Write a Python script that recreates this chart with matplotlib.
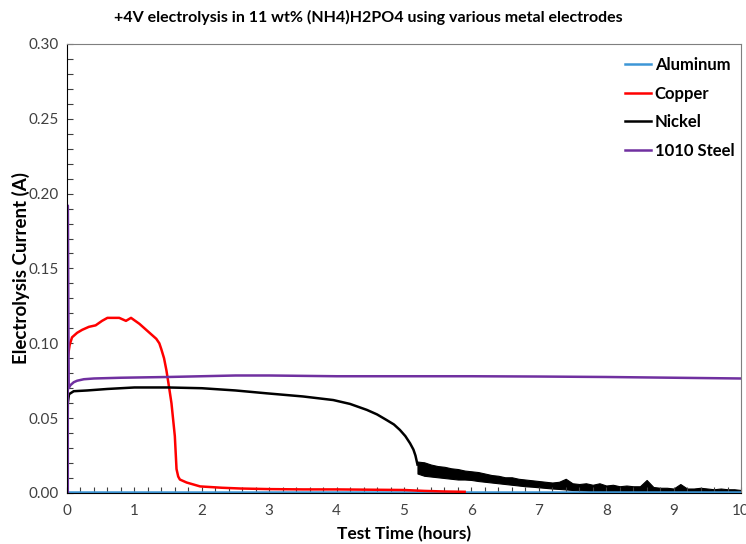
import matplotlib
matplotlib.use('Agg')
import matplotlib.pyplot as plt
from matplotlib.ticker import MultipleLocator

plt.rcParams['font.family'] = ['Lato', 'DejaVu Sans']

# --- data (hours, amps) ---
al_t = [0, 2, 4, 6, 8, 10]
al_i = [0.0005, 0.0005, 0.0005, 0.0005, 0.0005, 0.0005]

cu_t = [0.004, 0.004, 0.012, 0.04, 0.075, 0.15, 0.225, 0.325, 0.425, 0.52, 0.6, 0.7, 0.775,
        0.875, 0.95, 1.075, 1.15, 1.225, 1.325, 1.37, 1.4, 1.44, 1.475, 1.51, 1.55, 1.6,
        1.625, 1.65, 1.675, 1.775, 1.975, 2.3, 2.575, 3.0, 3.5, 4.0, 4.5, 5.0, 5.3, 5.6, 5.9]
cu_i = [0.0, 0.121, 0.091, 0.099, 0.104, 0.107, 0.109, 0.111, 0.112, 0.115, 0.117, 0.117,
        0.117, 0.115, 0.117, 0.113, 0.110, 0.107, 0.103, 0.100, 0.096, 0.090, 0.082, 0.072,
        0.060, 0.038, 0.016, 0.011, 0.009, 0.007, 0.0044, 0.0035, 0.0030, 0.0026, 0.0024,
        0.0024, 0.0022, 0.0020, 0.0014, 0.0010, 0.0008]

ni_t = [0.008, 0.012, 0.03, 0.1, 0.3, 0.6, 1.0, 1.5, 2.0, 2.5, 2.96, 3.5, 3.95, 4.2, 4.45,
        4.6, 4.74, 4.85, 4.94, 5.02, 5.09, 5.14, 5.17, 5.20]
ni_i = [0.0, 0.060, 0.066, 0.068, 0.0685, 0.0695, 0.0705, 0.0705, 0.0700, 0.0685, 0.0666,
        0.0645, 0.0621, 0.0595, 0.0555, 0.0525, 0.0488, 0.0458, 0.0421, 0.0380, 0.0332,
        0.0290, 0.0250, 0.0190]

# noisy nickel tail: upper / lower edge of the black band
ni_tail_t = [5.2, 5.3, 5.4, 5.5, 5.6, 5.7, 5.8, 5.9, 6.0, 6.1, 6.2, 6.3, 6.4, 6.5, 6.6,
             6.7, 6.8, 6.9, 7.0, 7.1, 7.2, 7.3, 7.4, 7.5, 7.6, 7.7, 7.8, 7.9, 8.0, 8.1,
             8.2, 8.3, 8.4, 8.5, 8.6, 8.7, 8.8, 8.9, 9.0, 9.1, 9.2, 9.3, 9.4, 9.5, 9.6,
             9.7, 9.8, 9.9, 10.0]
ni_tail_hi = [0.021, 0.0205, 0.019, 0.018, 0.0175, 0.0165, 0.016, 0.015, 0.0145, 0.014,
              0.013, 0.012, 0.0115, 0.0105, 0.0105, 0.0095, 0.009, 0.0085, 0.008, 0.0075,
              0.007, 0.0075, 0.0095, 0.0065, 0.006, 0.0065, 0.0055, 0.0065, 0.005, 0.0055,
              0.0045, 0.005, 0.0045, 0.0045, 0.0087, 0.004, 0.0035, 0.0035, 0.003, 0.006,
              0.003, 0.003, 0.0035, 0.003, 0.0025, 0.003, 0.0025, 0.0025, 0.002]
ni_tail_lo = [0.013, 0.0115, 0.011, 0.0105, 0.010, 0.0095, 0.009, 0.009, 0.0087, 0.008,
              0.0075, 0.007, 0.0065, 0.006, 0.0055, 0.005, 0.0045, 0.0042, 0.0038, 0.0034,
              0.003, 0.0027, 0.0024, 0.002, 0.0018, 0.0016, 0.0013, 0.0011, 0.0009, 0.0008,
              0.0008, 0.0007, 0.0007, 0.0007, 0.0007, 0.0006, 0.0006, 0.0006, 0.0006, 0.0006,
              0.0005, 0.0005, 0.0005, 0.0005, 0.0005, 0.0005, 0.0005, 0.0005, 0.0005]

st_t = [0.012, 0.012, 0.025, 0.05, 0.1, 0.15, 0.25, 0.4, 0.8, 1.5, 2.0, 2.5, 3.0, 4.0, 5.0,
        6.0, 7.0, 8.0, 9.0, 10.0]
st_i = [0.0, 0.192, 0.070, 0.072, 0.074, 0.075, 0.076, 0.0765, 0.077, 0.0775, 0.078,
        0.0785, 0.0785, 0.078, 0.078, 0.078, 0.0778, 0.0775, 0.077, 0.0765]

fig = plt.figure(figsize=(7.46, 5.44), dpi=100)
ax = fig.add_axes([0.0898, 0.09375, 0.9035, 0.8255])

ax.plot(al_t, al_i, color='#3D96D6', lw=1.8, label='Aluminum')
ax.plot(cu_t, cu_i, color='#FF0000', lw=1.8, label='Copper')
ax.plot(ni_t, ni_i, color='black', lw=1.8, label='Nickel')
ax.fill_between(ni_tail_t, ni_tail_lo, ni_tail_hi, color='black', lw=0.8)
ax.plot(st_t, st_i, color='#7030A0', lw=1.8, label='1010 Steel')

ax.set_xlim(0, 10)
ax.set_ylim(0, 0.30)
ax.xaxis.set_major_locator(MultipleLocator(1))
ax.xaxis.set_minor_locator(MultipleLocator(0.2))
ax.yaxis.set_major_locator(MultipleLocator(0.05))
ax.yaxis.set_minor_locator(MultipleLocator(0.01))
ax.yaxis.set_major_formatter(plt.FormatStrFormatter('%.2f'))
ax.tick_params(which='both', direction='in', length=4, width=0.8, labelsize=11,
               labelcolor='#404040', color='#404040')
ax.tick_params(axis='x', pad=8)
ax.tick_params(axis='y', pad=6)
ax.spines['top'].set_color('#7f7f7f')
ax.spines['right'].set_color('#7f7f7f')

ax.set_xlabel('Test Time (hours)', fontsize=12.5, fontweight='bold', labelpad=6)
ax.set_ylabel('Electrolysis Current (A)', fontsize=13.5, fontweight='bold', labelpad=-1)
fig.text(0.494, 0.967, '+4V electrolysis in 11 wt% (NH4)H2PO4 using various metal electrodes',
         ha='center', va='center', fontsize=11.5, fontweight='bold')

leg = ax.legend(loc='upper right', bbox_to_anchor=(1.0, 0.985), frameon=False,
                handlelength=1.6, handletextpad=0.2, labelspacing=0.75, borderaxespad=0.0,
                prop={'weight': 'bold', 'size': 12})

fig.savefig('out.png', dpi=100)
